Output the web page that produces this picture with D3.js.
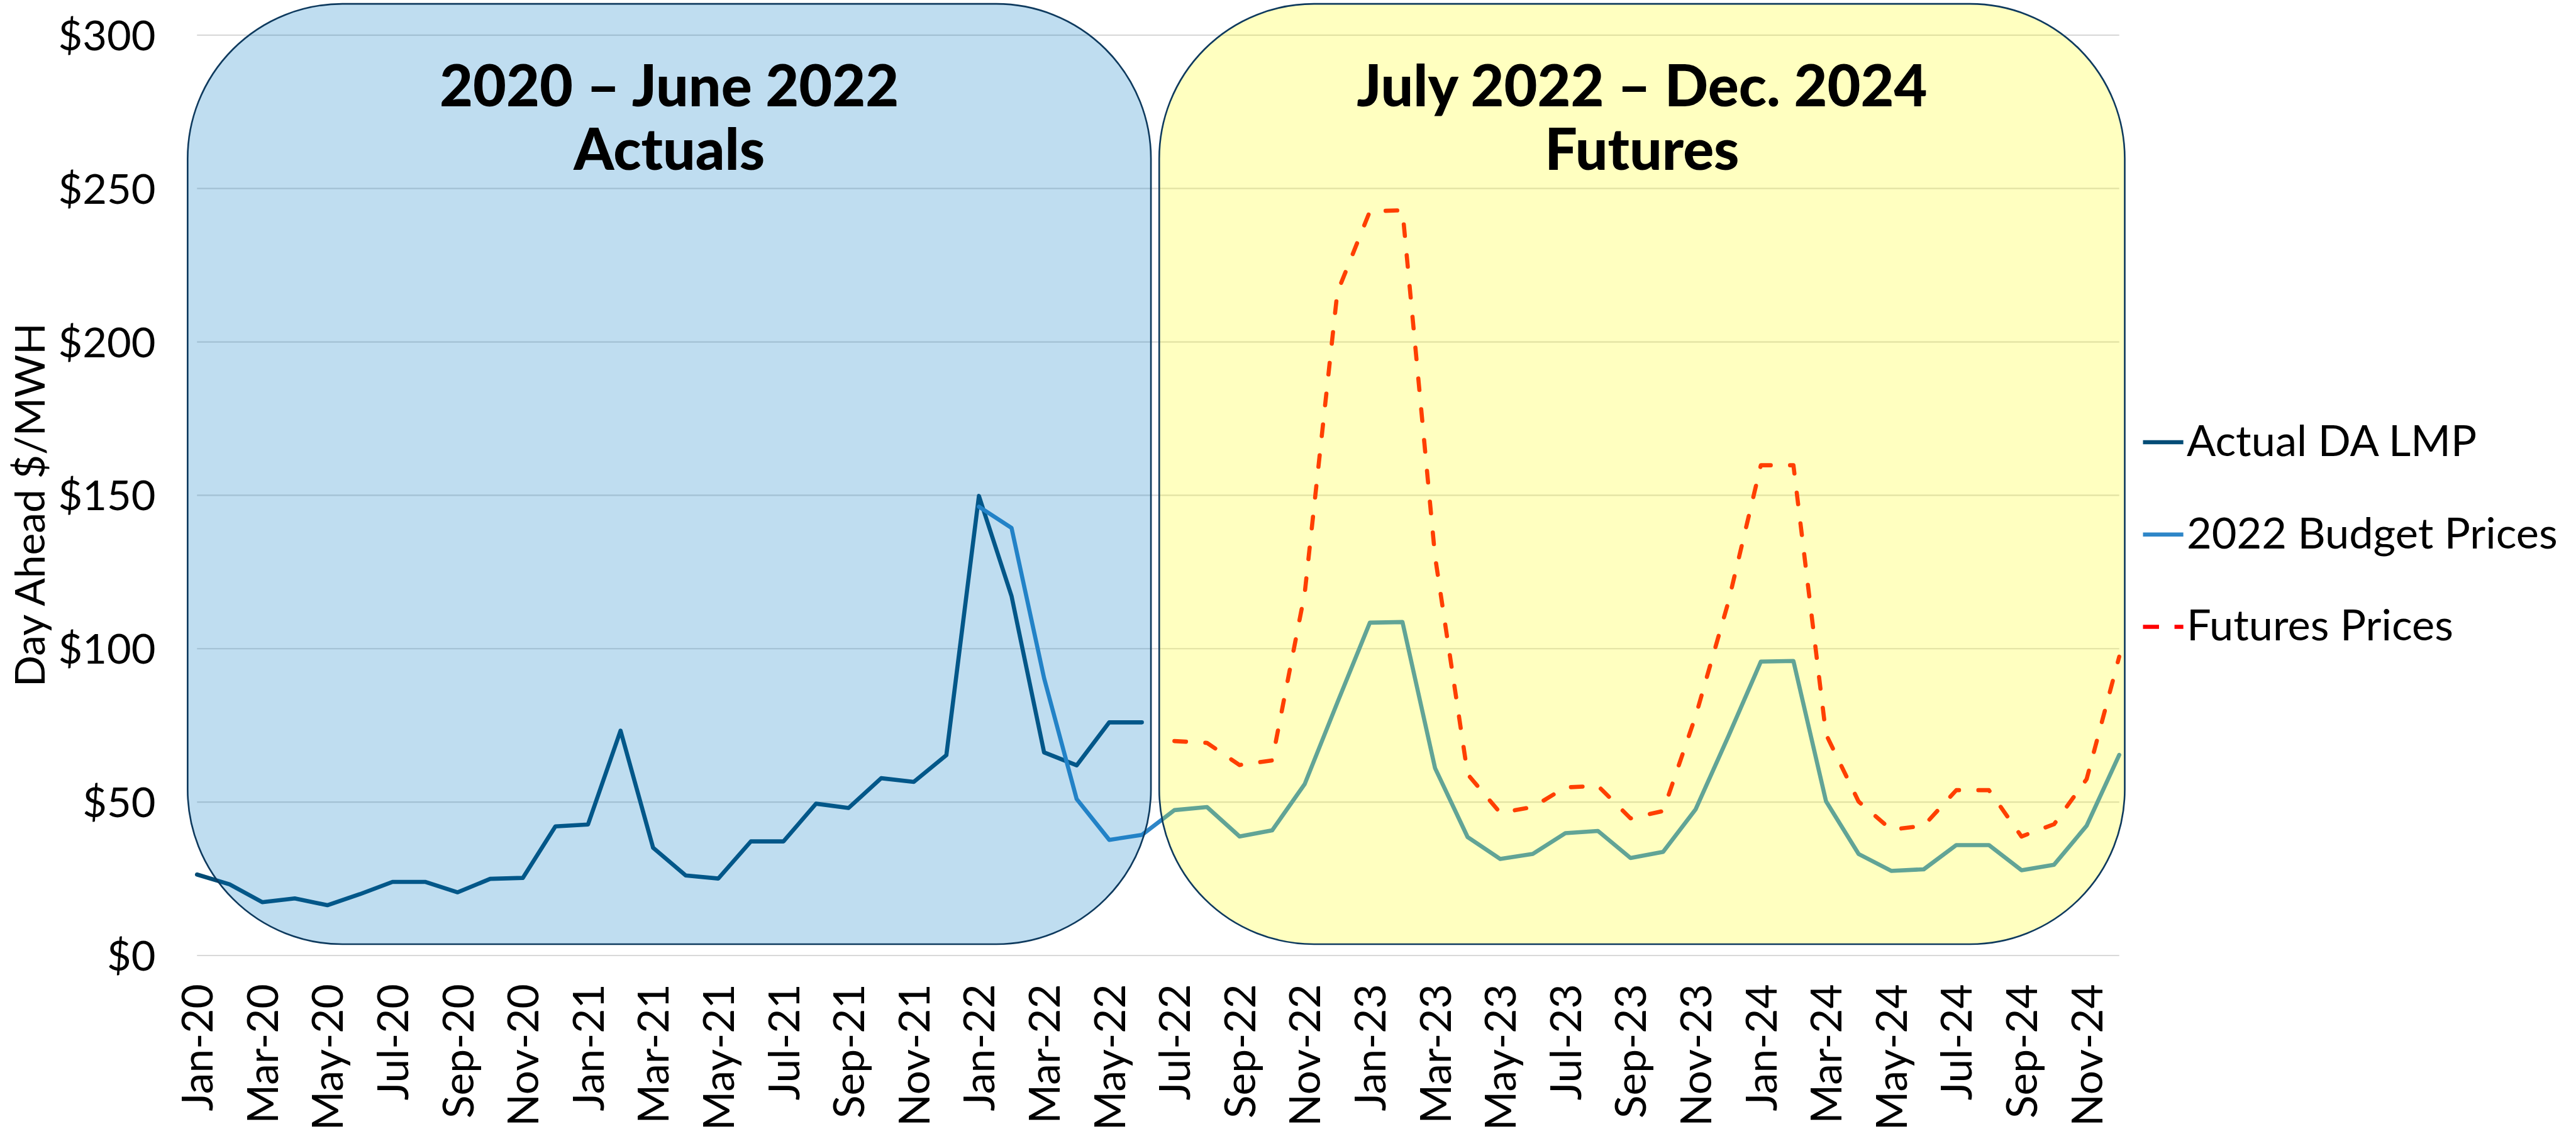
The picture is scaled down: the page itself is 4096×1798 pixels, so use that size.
<!DOCTYPE html>
<html><head><meta charset="utf-8">
<script src="https://cdn.jsdelivr.net/npm/d3@7"></script>
<style>html,body{margin:0;padding:0;background:#fff;overflow:hidden}</style>
</head><body>
<svg id="chart"></svg>
<script>
// ---------- data ----------
const months = [
  "Jan-20","Feb-20","Mar-20","Apr-20","May-20","Jun-20","Jul-20","Aug-20","Sep-20","Oct-20","Nov-20","Dec-20",
  "Jan-21","Feb-21","Mar-21","Apr-21","May-21","Jun-21","Jul-21","Aug-21","Sep-21","Oct-21","Nov-21","Dec-21",
  "Jan-22","Feb-22","Mar-22","Apr-22","May-22","Jun-22","Jul-22","Aug-22","Sep-22","Oct-22","Nov-22","Dec-22",
  "Jan-23","Feb-23","Mar-23","Apr-23","May-23","Jun-23","Jul-23","Aug-23","Sep-23","Oct-23","Nov-23","Dec-23",
  "Jan-24","Feb-24","Mar-24","Apr-24","May-24","Jun-24","Jul-24","Aug-24","Sep-24","Oct-24","Nov-24","Dec-24"
];
const xTickLabels = months.filter((d, i) => i % 2 === 0);
const yTicks = [0, 50, 100, 150, 200, 250, 300];

const actualStart = "Jan-20";
const actualValues = [
  26.3, 23.1, 17.3, 18.5, 16.3, 19.9, 23.9, 23.9, 20.5, 24.9, 25.2, 42.0,
  42.6, 73.2, 35.0, 26.0, 25.0, 37.1, 37.1, 49.4, 48.0, 57.7, 56.5, 65.2,
  149.7, 117.1, 66.1, 61.9, 75.9, 75.9
];
const budgetStart = "Jan-22";
const budgetValues = [
  146.2, 139.3, 90.3, 50.9, 37.6, 39.2, 47.3, 48.3, 38.7, 40.7, 55.8, 82.3,
  108.4, 108.6, 61.0, 38.5, 31.4, 33.0, 39.8, 40.5, 31.7, 33.7, 47.6, 71.3,
  95.7, 95.9, 50.2, 33.0, 27.5, 28.0, 35.9, 35.9, 27.7, 29.5, 42.2, 65.3
];
const futuresStart = "Jul-22";
const futuresValues = [
  69.8, 69.2, 62.0, 63.5, 118.0, 216.0,
  242.5, 242.8, 130.0, 59.0, 46.4, 48.3, 54.7, 55.2, 44.6, 47.0, 78.0, 115.0,
  159.7, 159.7, 72.0, 50.1, 40.9, 42.2, 53.8, 53.8, 38.7, 42.7, 57.4, 97.3
];
const seriesNames = ["Actual DA LMP", "2022 Budget Prices", "Futures Prices"];
const periodTitles = [["2020 \u2013 June 2022", "Actuals"], ["July 2022 \u2013 Dec. 2024", "Futures"]];
const periodRanges = [["Jan-20", "Jun-22"], ["Jul-22", "Dec-24"]];
const yTitle = "Day Ahead $/MWH";

// ---------- layout ----------
const W = 4660, H = 2046;
const plot = {left: 356, right: 3834, top: 63, bottom: 1728};
const colors = {actual: "#034C76", budget: "#2E86C8", futures: "#FF0000"};
const FONT = "Lato, 'Open Sans', 'DejaVu Sans', sans-serif";
const LW = 7.5;

const svg = d3.select("#chart")
  .attr("width", 4096).attr("height", 1798)
  .attr("viewBox", `0 0 ${W} ${H}`)
  .style("display", "block").style("background", "#fff");

const x = d3.scalePoint().domain(months).range([plot.left, plot.right]);
const y = d3.scaleLinear().domain([0, 300]).range([plot.bottom, plot.top]);

// gridlines + y labels
const yAxis = svg.append("g").attr("transform", `translate(${plot.left},0)`)
  .call(d3.axisLeft(y).tickValues(yTicks).tickFormat(d => "$" + d)
    .tickSizeInner(-(plot.right - plot.left)).tickSizeOuter(0).tickPadding(75));
yAxis.select(".domain").remove();
yAxis.selectAll(".tick line").attr("stroke", "#D9D9D9").attr("stroke-width", 2.5);
yAxis.selectAll(".tick text").attr("font-family", FONT).attr("font-size", 76)
  .attr("fill", "#000").attr("dy", "0.36em");

// x labels
const xAxis = svg.append("g").attr("transform", `translate(0,${plot.bottom})`)
  .call(d3.axisBottom(x).tickValues(xTickLabels).tickSize(0));
xAxis.select(".domain").remove();
xAxis.selectAll(".tick text").attr("font-family", FONT).attr("font-size", 77)
  .attr("fill", "#000").attr("transform", "rotate(-90)")
  .attr("x", -52).attr("y", 0).attr("dy", "0.36em").attr("text-anchor", "end");

// y title
svg.append("text").attr("transform", `translate(80,${(plot.top + plot.bottom) / 2 + 18}) rotate(-90)`)
  .attr("text-anchor", "middle").attr("font-family", FONT).attr("font-size", 75)
  .attr("fill", "#000").text(yTitle);

// series
function seriesData(start, vals) {
  const i0 = months.indexOf(start);
  return vals.map((v, i) => ({m: months[i0 + i], v}));
}
const line = d3.line().x(d => x(d.m)).y(d => y(d.v));
const linesG = svg.append("g").attr("fill", "none").attr("stroke-linejoin", "round").attr("stroke-linecap", "round");
linesG.append("path").datum(seriesData(actualStart, actualValues)).attr("d", line)
  .attr("stroke", colors.actual).attr("stroke-width", LW);
linesG.append("path").datum(seriesData(budgetStart, budgetValues)).attr("d", line)
  .attr("stroke", colors.budget).attr("stroke-width", LW);
linesG.append("path").datum(seriesData(futuresStart, futuresValues)).attr("d", line)
  .attr("stroke", colors.futures).attr("stroke-width", LW).attr("stroke-dasharray", "21 35");

// period boxes (semi-transparent overlays)
const boxFills = [{fill: "rgb(0,118,196)", op: 0.25}, {fill: "rgb(255,255,0)", op: 0.247}];
const boxPad = [[-17, 16.5], [-27.5, 10]];
const boxTop = 7, boxBottom = 1708;
periodRanges.forEach((r, i) => {
  const x0 = x(r[0]) + boxPad[i][0], x1 = x(r[1]) + boxPad[i][1];
  svg.append("rect").attr("x", x0).attr("y", boxTop).attr("width", x1 - x0)
    .attr("height", boxBottom - boxTop).attr("rx", 280).attr("ry", 280)
    .attr("fill", boxFills[i].fill).attr("fill-opacity", boxFills[i].op)
    .attr("stroke", "#0E3A5E").attr("stroke-width", 3);
  const cx = (x0 + x1) / 2;
  const t = svg.append("text").attr("text-anchor", "middle").attr("font-family", FONT)
    .attr("font-weight", 900).attr("font-size", 104).attr("fill", "#000");
  t.append("tspan").attr("x", cx).attr("y", 192).text(periodTitles[i][0]);
  t.append("tspan").attr("x", cx).attr("y", 307).text(periodTitles[i][1]);
});

// legend
const legendItems = [
  {name: seriesNames[0], color: colors.actual, dash: null, y: 800},
  {name: seriesNames[1], color: colors.budget, dash: null, y: 967},
  {name: seriesNames[2], color: colors.futures, dash: "29 28", y: 1134}
];
const lg = svg.append("g");
legendItems.forEach(it => {
  lg.append("line").attr("x1", 3877).attr("x2", 3950).attr("y1", it.y).attr("y2", it.y)
    .attr("stroke", it.color).attr("stroke-width", LW)
    .attr("stroke-dasharray", it.dash);
  lg.append("text").attr("x", 3956).attr("y", it.y + 25).attr("font-family", FONT)
    .attr("font-size", 78).attr("fill", "#000").text(it.name);
});
</script>
</body></html>
